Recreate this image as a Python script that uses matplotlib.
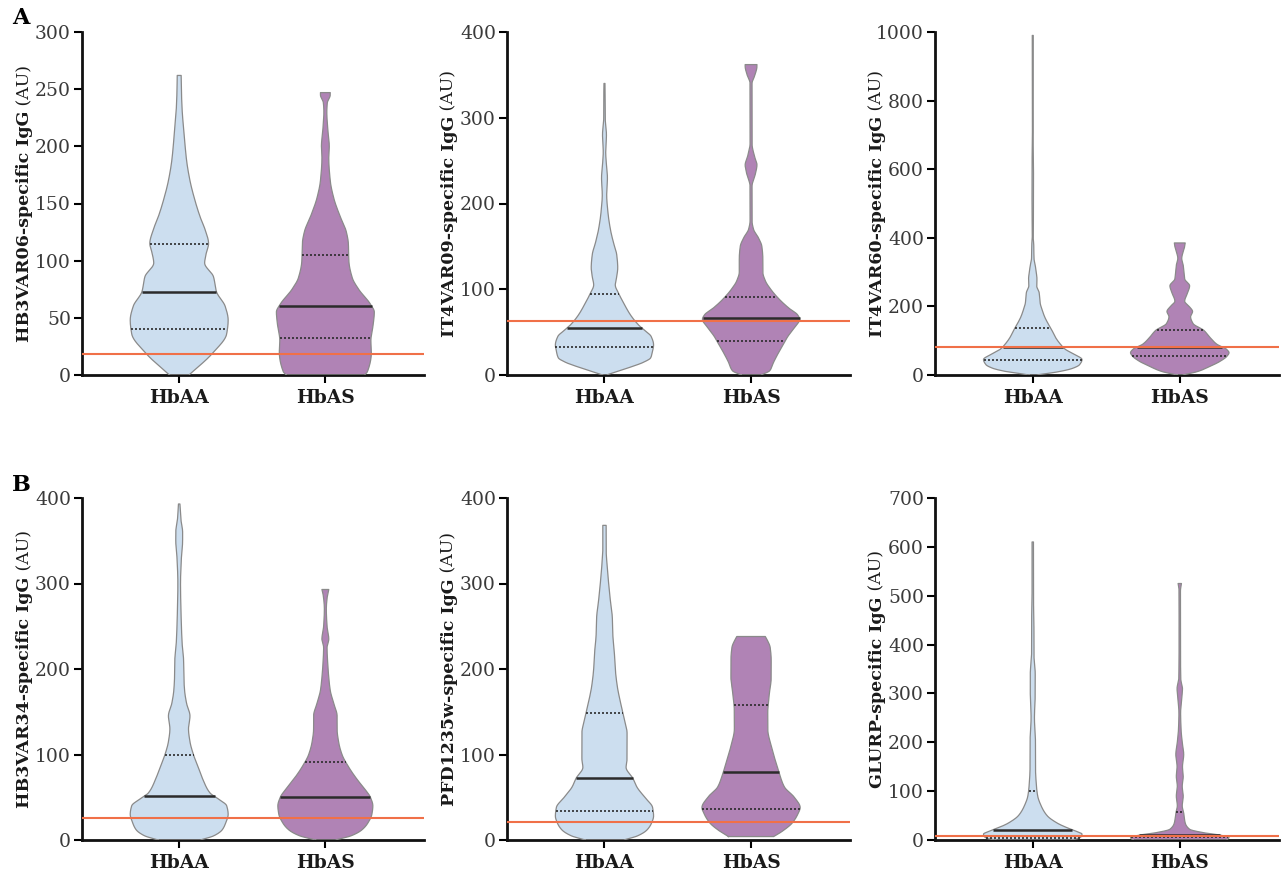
import numpy as np
import matplotlib
matplotlib.use("Agg")
import matplotlib.pyplot as plt

plt.rcParams['font.family'] = ['DejaVu Serif']

groups = ["HbAA", "HbAS"]

# ---- violin outlines: y levels (AU) and relative half-widths ----
hb3var06_aa_y = [0, 19, 36, 48, 60, 73, 86, 98, 106, 115, 127, 138, 153, 170, 188, 211, 232, 249, 262]
hb3var06_aa_w = [0.2, 0.68, 0.97, 1.0, 0.94, 0.76, 0.7, 0.52, 0.55, 0.6, 0.53, 0.43, 0.32, 0.22, 0.15, 0.1, 0.06, 0.045, 0.04]
hb3var06_as_y = [0, 3, 20, 30, 45, 55, 62, 75, 85, 100, 115, 125, 140, 155, 170, 190, 200, 215, 230, 238, 245, 247]
hb3var06_as_w = [0.8, 0.86, 0.94, 0.93, 0.98, 1.0, 0.92, 0.68, 0.55, 0.48, 0.47, 0.43, 0.29, 0.17, 0.1, 0.07, 0.08, 0.05, 0.03, 0.04, 0.1, 0.1]

it4var09_aa_y = [0, 5, 10, 15, 20, 28, 35, 45, 52, 58, 70, 85, 95, 105, 115, 125, 140, 155, 170, 190, 210, 230, 245, 260, 280, 300, 320, 340]
it4var09_aa_w = [0.04, 0.3, 0.57, 0.8, 0.94, 0.98, 1.0, 0.95, 0.82, 0.7, 0.53, 0.38, 0.29, 0.22, 0.25, 0.27, 0.25, 0.18, 0.12, 0.07, 0.045, 0.06, 0.04, 0.025, 0.04, 0.015, 0.015, 0.01]
it4var09_as_y = [0, 5, 15, 25, 35, 45, 55, 65, 70, 78, 88, 100, 110, 120, 135, 150, 160, 170, 180, 220, 235, 245, 255, 270, 340, 350, 360, 362]
it4var09_as_w = [0.2, 0.38, 0.46, 0.55, 0.65, 0.75, 0.88, 0.99, 0.95, 0.77, 0.58, 0.4, 0.29, 0.24, 0.24, 0.22, 0.15, 0.05, 0.02, 0.02, 0.09, 0.12, 0.07, 0.02, 0.02, 0.08, 0.12, 0.12]

it4var60_aa_y = [0, 10, 20, 30, 45, 60, 75, 90, 110, 130, 150, 170, 190, 210, 240, 260, 280, 300, 320, 340, 380, 400, 500, 600, 700, 990]
it4var60_aa_w = [0.07, 0.54, 0.82, 0.95, 1.0, 0.85, 0.66, 0.56, 0.46, 0.39, 0.31, 0.24, 0.19, 0.15, 0.13, 0.08, 0.085, 0.07, 0.05, 0.025, 0.02, 0.01, 0.015, 0.015, 0.007, 0.01]
it4var60_as_y = [0, 10, 25, 40, 55, 65, 75, 90, 110, 130, 150, 170, 185, 200, 215, 240, 260, 280, 300, 320, 340, 360, 375, 385]
it4var60_as_w = [0.05, 0.36, 0.61, 0.82, 0.96, 1.0, 0.95, 0.75, 0.61, 0.49, 0.27, 0.22, 0.26, 0.19, 0.1, 0.16, 0.2, 0.1, 0.085, 0.07, 0.04, 0.07, 0.1, 0.11]

hb3var34_aa_y = [0, 5, 12, 20, 30, 40, 48, 55, 70, 85, 100, 115, 130, 145, 160, 175, 190, 210, 230, 260, 300, 330, 350, 360, 375, 393]
hb3var34_aa_w = [0.43, 0.71, 0.88, 0.95, 1.0, 0.97, 0.8, 0.63, 0.49, 0.39, 0.29, 0.22, 0.19, 0.22, 0.15, 0.11, 0.095, 0.09, 0.06, 0.04, 0.027, 0.045, 0.07, 0.07, 0.035, 0.015]
hb3var34_as_y = [0, 5, 12, 20, 30, 40, 50, 60, 70, 85, 100, 115, 130, 145, 160, 175, 190, 205, 225, 235, 250, 270, 285, 293]
hb3var34_as_w = [0.2, 0.53, 0.75, 0.87, 0.95, 0.97, 0.92, 0.8, 0.66, 0.48, 0.34, 0.27, 0.24, 0.24, 0.17, 0.1, 0.07, 0.05, 0.035, 0.07, 0.035, 0.02, 0.04, 0.07]

pfd1235w_aa_y = [0, 5, 12, 20, 28, 38, 50, 62, 72, 85, 95, 110, 125, 140, 150, 165, 180, 200, 220, 240, 260, 280, 300, 320, 340, 368]
pfd1235w_aa_w = [0.39, 0.68, 0.87, 0.96, 1.0, 0.98, 0.82, 0.66, 0.58, 0.44, 0.46, 0.46, 0.46, 0.41, 0.37, 0.31, 0.26, 0.22, 0.2, 0.17, 0.16, 0.12, 0.085, 0.055, 0.034, 0.034]
pfd1235w_as_y = [4, 10, 20, 30, 38, 50, 62, 75, 90, 110, 130, 150, 170, 190, 210, 225, 235, 238]
pfd1235w_as_w = [0.46, 0.63, 0.84, 0.95, 1.0, 0.88, 0.68, 0.59, 0.51, 0.41, 0.34, 0.34, 0.37, 0.41, 0.41, 0.39, 0.32, 0.29]

glurp_aa_y = [0, 3, 8, 12, 18, 25, 35, 50, 70, 90, 110, 150, 200, 250, 300, 340, 380, 440, 500, 610]
glurp_aa_w = [0.75, 0.92, 0.99, 1.0, 0.88, 0.7, 0.49, 0.29, 0.17, 0.1, 0.075, 0.055, 0.055, 0.034, 0.05, 0.05, 0.024, 0.024, 0.014, 0.014]
glurp_as_y = [0, 5, 10, 15, 22, 35, 55, 70, 90, 110, 130, 150, 175, 200, 225, 260, 290, 310, 330, 400, 510, 525]
glurp_as_w = [0.95, 1.0, 0.82, 0.48, 0.2, 0.11, 0.08, 0.05, 0.07, 0.05, 0.07, 0.055, 0.08, 0.05, 0.027, 0.017, 0.04, 0.055, 0.02, 0.014, 0.014, 0.034]

# quartiles (Q1, median, Q3) per group
hb3var06_quart = [[40, 73, 115], [32, 60, 105]]
it4var09_quart = [[33, 55, 94], [40, 66, 91]]
it4var60_quart = [[45, 82, 137], [55, 82, 132]]
hb3var34_quart = [[26, 51, 99], [26, 50, 91]]
pfd1235w_quart = [[34, 72, 149], [36, 79, 158]]
glurp_quart = [[5, 21, 100], [6, 10, 57]]

# seropositivity cut-offs
cutoffs = [18, 63, 82, 26, 21, 8]

antigens = ["HB3VAR06", "IT4VAR09", "IT4VAR60", "HB3VAR34", "PFD1235w", "GLURP"]
ymaxes = [300, 400, 1000, 400, 400, 700]
ysteps = [50, 100, 200, 100, 100, 100]

profiles = [
    [(hb3var06_aa_y, hb3var06_aa_w), (hb3var06_as_y, hb3var06_as_w)],
    [(it4var09_aa_y, it4var09_aa_w), (it4var09_as_y, it4var09_as_w)],
    [(it4var60_aa_y, it4var60_aa_w), (it4var60_as_y, it4var60_as_w)],
    [(hb3var34_aa_y, hb3var34_aa_w), (hb3var34_as_y, hb3var34_as_w)],
    [(pfd1235w_aa_y, pfd1235w_aa_w), (pfd1235w_as_y, pfd1235w_as_w)],
    [(glurp_aa_y, glurp_aa_w), (glurp_as_y, glurp_as_w)],
]
quarts = [hb3var06_quart, it4var09_quart, it4var60_quart, hb3var34_quart, pfd1235w_quart, glurp_quart]

fill_colors = ["#ccdeef", "#b083b5"]
edge_color = "#8a8a8a"
cut_color = "#f07048"
half_width = 0.335


def pchip(x, y, xf):
    x = np.asarray(x, float)
    y = np.asarray(y, float)
    h = np.diff(x)
    delta = np.diff(y) / h
    n = len(x)
    d = np.zeros(n)
    d[0] = delta[0]
    d[-1] = delta[-1]
    for k in range(1, n - 1):
        if delta[k - 1] * delta[k] <= 0:
            d[k] = 0.0
        else:
            w1 = 2 * h[k] + h[k - 1]
            w2 = h[k] + 2 * h[k - 1]
            d[k] = (w1 + w2) / (w1 / delta[k - 1] + w2 / delta[k])
    idx = np.clip(np.searchsorted(x, xf) - 1, 0, n - 2)
    t = (xf - x[idx]) / h[idx]
    h00 = 2 * t**3 - 3 * t**2 + 1
    h10 = t**3 - 2 * t**2 + t
    h01 = -2 * t**3 + 3 * t**2
    h11 = t**3 - t**2
    return h00 * y[idx] + h10 * h[idx] * d[idx] + h01 * y[idx + 1] + h11 * h[idx] * d[idx + 1]


W, H = 1281, 874
fig = plt.figure(figsize=(W / 100, H / 100), dpi=100)
renderer = fig.canvas.get_renderer()

lefts = [82, 507, 935]
rights = [424, 850, 1279]
tops = [32, 498]
bottoms = [375, 840]

for i in range(6):
    r, c = divmod(i, 3)
    ax_h = bottoms[r] - tops[r]
    ax = fig.add_axes([lefts[c] / W, 1 - bottoms[r] / H,
                       (rights[c] - lefts[c]) / W, ax_h / H])
    ymax = ymaxes[i]
    for g in range(2):
        ys, ws = profiles[i][g]
        yf = np.linspace(ys[0], ys[-1], 1500)
        wf = np.clip(pchip(ys, ws, yf), 0.004, None)
        hw = wf * half_width
        ax.fill_betweenx(yf, g - hw, g + hw, facecolor=fill_colors[g],
                         edgecolor='none', zorder=2)
        xs = np.concatenate([g - hw, (g + hw)[::-1], [(g - hw)[0]]])
        yy = np.concatenate([yf, yf[::-1], [yf[0]]])
        ax.plot(xs, yy, color=edge_color, lw=0.9, zorder=3)
        q1, med, q3 = quarts[i][g]
        for val, ls, lw in [(q1, (0, (1.2, 1.2)), 1.2), (q3, (0, (1.2, 1.2)), 1.2), (med, '-', 1.8)]:
            w = np.interp(val, yf, hw)
            ax.plot([g - w, g + w], [val, val], color="#2b2b2b", lw=lw, ls=ls, zorder=4,
                    solid_capstyle='butt')
    ax.axhline(cutoffs[i], color=cut_color, lw=1.5, zorder=5)

    ax.set_xlim(-0.665, 1.675)
    ax.set_ylim(0, ymax)
    ax.set_xticks([0, 1])
    ax.set_xticklabels(groups, fontsize=13.5, fontweight='bold', color='#1a1a1a')
    ax.set_yticks(np.arange(0, ymax + 1, ysteps[i]))
    ax.tick_params(axis='y', labelsize=13.5, labelcolor='#3a3a3a', length=6, width=1.5, pad=2)
    ax.tick_params(axis='x', length=6, width=1.5, pad=4)
    for s in ['top', 'right']:
        ax.spines[s].set_visible(False)
    for s in ['left', 'bottom']:
        ax.spines[s].set_linewidth(2)
        ax.spines[s].set_color('#111111')

    # y label: bold antigen part + regular "(AU)"
    xb = -0.155
    t1 = ax.text(xb, 0, antigens[i] + "-specific IgG", rotation=90, rotation_mode='anchor',
                 ha='left', va='baseline', fontsize=12.5, fontweight='bold', color='#1a1a1a',
                 transform=ax.transAxes)
    t2 = ax.text(xb, 0, " (AU)", rotation=90, rotation_mode='anchor',
                 ha='left', va='baseline', fontsize=12.5, color='#1a1a1a',
                 transform=ax.transAxes)
    l1 = t1.get_window_extent(renderer).height
    l2 = t2.get_window_extent(renderer).height
    start = 0.5 - (l1 + l2) / 2 / ax_h
    t1.set_y(start)
    t2.set_y(start + l1 / ax_h)

fig.text(12 / W, 1 - 18 / H, "A", fontsize=16, fontweight='bold', va='center', ha='left')
fig.text(12 / W, 1 - 485 / H, "B", fontsize=16, fontweight='bold', va='center', ha='left')

fig.savefig("out.png", dpi=100)
